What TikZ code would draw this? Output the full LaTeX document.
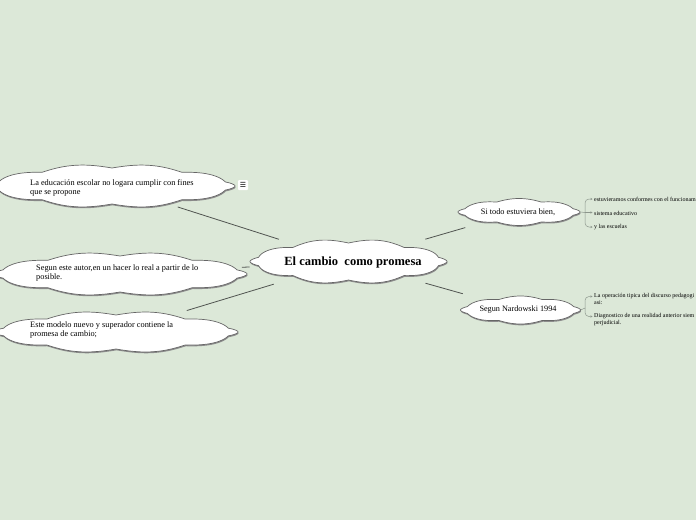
\documentclass[tikz,border=0pt]{standalone}
\usepackage{fontspec}
\setmainfont{Liberation Serif}
\newfontfamily\symfont{DejaVu Sans}
\usetikzlibrary{shapes.geometric,arrows.meta,calc}
\definecolor{bg}{RGB}{220,232,216}
\definecolor{edge}{RGB}{80,84,80}
\definecolor{brk}{RGB}{140,150,140}
% #1 node name, #2 rx, #3 ry, #4 bump factor, #5 bump depth
\newcommand\cloudoutline[5]{%
  \fill[black!45, shift={($(#1.center)+(0.5,1.3)$)}]
    plot[domain=0:360, samples=361, variable=\t]
    ({(#2-#5+#5*abs(cos(#4*\t)))*cos(\t)},{(#3-#5+#5*abs(cos(#4*\t)))*sin(\t)*(0.4+0.6*sqrt(abs(sin(\t))))}) -- cycle;
  \filldraw[fill=white, draw=black!60, line width=0.7pt, shift={(#1.center)}]
    plot[domain=0:360, samples=361, variable=\t]
    ({(#2-#5+#5*abs(cos(#4*\t)))*cos(\t)},{(#3-#5+#5*abs(cos(#4*\t)))*sin(\t)*(0.4+0.6*sqrt(abs(sin(\t))))}) -- cycle;}
\begin{document}
\begin{tikzpicture}[x=1pt,y=-1pt,
  hub/.style={ellipse, inner sep=0pt},
  link/.style={draw=edge, line width=0.8pt},
  lbl/.style={font=\fontsize{8.3}{9}\selectfont, align=left, anchor=north west, inner sep=0pt},
  sublbl/.style={font=\fontsize{6}{7}\selectfont, align=left, inner sep=0pt},
  brace/.style={draw=brk, line width=0.5pt, rounded corners=4pt},
  tip/.style={brace, -{Stealth[length=2pt,width=2pt]}}]
\fill[bg] (0,0) rectangle (696,520);
\useasboundingbox (0,0) rectangle (696,520);

% cloud anchors
\node[hub, minimum width=246pt, minimum height=42pt] (c1) at (112,186) {};
\node[hub, minimum width=254pt, minimum height=42pt] (c2) at (120,274) {};
\node[hub, minimum width=244pt, minimum height=40pt] (c3) at (116,332) {};
\node[hub, minimum width=197pt, minimum height=43pt] (c0) at (348.5,261.5) {};
\node[hub, minimum width=122pt, minimum height=25pt] (c4) at (519,212) {};
\node[hub, minimum width=120pt, minimum height=26pt] (c5) at (520.5,310) {};

% main connectors
\draw[link, shorten <=73pt, shorten >=69pt] (c0.center) -- (c1.center);
\draw[link, shorten <=99pt, shorten >=122pt] (c0.center) -- (c2.center);
\draw[link, shorten <=78pt, shorten >=74pt] (c0.center) -- (c3.center);
\draw[link, shorten <=80pt, shorten >=56pt] (c0.center) -- (c4.center);
\draw[link, shorten <=80pt, shorten >=60pt] (c0.center) -- (c5.center);

% cloud outlines
\cloudoutline{c1}{123}{22}{5}{4}
\cloudoutline{c2}{127}{22}{5}{4}
\cloudoutline{c3}{122}{21}{5}{4}
\cloudoutline{c0}{98.5}{22.5}{5}{4}
\cloudoutline{c4}{61}{13.5}{4}{2.5}
\cloudoutline{c5}{60}{14}{4}{2.5}

% texts
\node[lbl] (t1) at (30,179) {La educación escolar no logara cumplir con fines\\que se propone};
\node[lbl] (t2) at (36,265) {Segun este autor,en un hacer lo real a partir de lo\\posible.};
\node[lbl] (t3) at (30,322) {Este modelo nuevo y superador contiene la\\promesa de cambio;};
\node[font=\fontsize{12.5}{14}\selectfont\bfseries, inner sep=0pt] (t0) at (353,262) {El cambio \ como promesa};
\node[font=\fontsize{8.3}{9}\selectfont, inner sep=0pt] (t4) at (518,212) {Si todo estuviera bien,};
\node[font=\fontsize{8.2}{9}\selectfont, inner sep=0pt] (t5) at (518,310) {Segun Nardowski 1994};

% icon
\node[fill=white, rounded corners=1pt, minimum size=10pt, inner sep=0pt,
  font=\symfont\fontsize{7}{7}\selectfont] (ic) at (243,185) {☰};

% sub-items of "Si todo estuviera bien,"
\node[sublbl, anchor=west] (s1) at (594,199) {estuvieramos conformes con el funcionam};
\node[sublbl, anchor=west] (s2) at (594,213) {sistema educativo};
\node[sublbl, anchor=west] (s3) at (594,227) {y las escuelas};
\coordinate (b4) at (585,212.5);
\draw[brace] (c4.east) -- (b4);
\draw[tip, shorten >=1.5pt] (b4) |- (s1.west);
\draw[tip, shorten >=1.5pt] (b4) -- (s2.west |- b4);
\draw[tip, shorten >=1.5pt] (b4) |- (s3.west);

% sub-items of "Segun Nardowski 1994"
\node[sublbl, anchor=north west] (s4) at (594,293.5) {La operación tipica del discurso pedagogi\\asi:};
\node[sublbl, anchor=north west] (s5) at (594,313.5) {Diagnostico de una realidad anterior siem\\perjudicial.};
\coordinate (b5) at (585,308);
\draw[brace] (c5.east) -- (b5);
\draw[tip, shorten >=1.5pt] (b5) |- ($(s4.north west)+(0,3)$);
\draw[tip, shorten >=1.5pt] (b5) |- ($(s5.north west)+(0,3)$);
\end{tikzpicture}
\end{document}
